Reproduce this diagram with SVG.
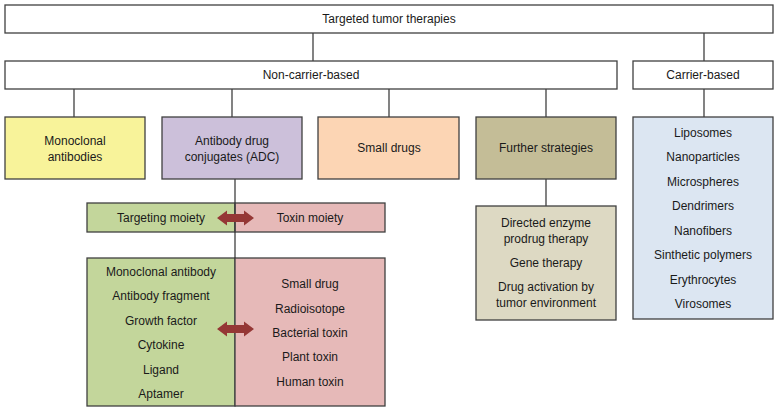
<svg xmlns="http://www.w3.org/2000/svg" width="777" height="416" viewBox="0 0 777 416">
<style>
.b{stroke:#404040;stroke-width:1.3}
text{font-family:"Liberation Sans",Arial,sans-serif;font-size:12px;fill:#1a1a1a;text-anchor:middle;dominant-baseline:central}
.c{stroke:#404040;stroke-width:1.3;fill:none}
.ar{fill:#953735}
</style>
<defs>
<path id="dbl" d="M-18.5,0 L-8.5,-7.5 L-8.5,-4 L8.5,-4 L8.5,-7.5 L18.5,0 L8.5,7.5 L8.5,4 L-8.5,4 L-8.5,7.5 Z"/>
</defs>
<g id="connectors">
<line class="c" x1="313" y1="33" x2="313" y2="61"/>
<line class="c" x1="704" y1="33" x2="704" y2="61"/>
<line class="c" x1="74" y1="89" x2="74" y2="117"/>
<line class="c" x1="232" y1="89" x2="232" y2="117"/>
<line class="c" x1="389" y1="89" x2="389" y2="117"/>
<line class="c" x1="546" y1="89" x2="546" y2="117"/>
<line class="c" x1="704" y1="89" x2="704" y2="117"/>
<line class="c" x1="546" y1="179" x2="546" y2="206"/>
</g>
<g id="root"><rect class="b" x="5" y="5" width="768" height="28" fill="#fff"/><text x="389" y="19">Targeted tumor therapies</text></g>
<g id="noncarrier"><rect class="b" x="5" y="61" width="612" height="28" fill="#fff"/><text x="311" y="75">Non-carrier-based</text></g>
<g id="carrier"><rect class="b" x="633" y="61" width="140" height="28" fill="#fff"/><text x="703" y="75">Carrier-based</text></g>
<g id="mab"><rect class="b" x="5" y="117" width="140" height="62" fill="#F8F39A"/><text x="75" y="141">Monoclonal</text><text x="75" y="157">antibodies</text></g>
<g id="adc"><rect class="b" x="162" y="117" width="140" height="62" fill="#CCC0DA"/><text x="232" y="141">Antibody drug</text><text x="232" y="157">conjugates (ADC)</text></g>
<g id="small"><rect class="b" x="318" y="117" width="141" height="62" fill="#FCD5B4"/><text x="389" y="148">Small drugs</text></g>
<g id="further"><rect class="b" x="476" y="117" width="140" height="62" fill="#C4BD97"/><text x="546" y="148">Further strategies</text></g>
<g id="carrierlist"><rect class="b" x="633" y="117" width="140" height="202" fill="#DCE6F2"/>
<text x="703" y="133">Liposomes</text><text x="703" y="157">Nanoparticles</text><text x="703" y="182">Microspheres</text><text x="703" y="206">Dendrimers</text><text x="703" y="231">Nanofibers</text><text x="703" y="255">Sinthetic polymers</text><text x="703" y="280">Erythrocytes</text><text x="703" y="304">Virosomes</text></g>
<g id="furtherlist"><rect class="b" x="476" y="206" width="140" height="114" fill="#DDD9C3"/>
<text x="546" y="223">Directed enzyme</text><text x="546" y="239">prodrug therapy</text><text x="546" y="263">Gene therapy</text><text x="546" y="287">Drug activation by</text><text x="546" y="303">tumor environment</text></g>
<g id="targeting"><rect class="b" x="87" y="203" width="148" height="29" fill="#C3D69B"/><text x="161" y="218">Targeting moiety</text></g>
<g id="toxin"><rect class="b" x="235" y="203" width="150" height="29" fill="#E6B9B8"/><text x="310" y="218">Toxin moiety</text></g>
<g id="targetlist"><rect class="b" x="87" y="258" width="148" height="148" fill="#C3D69B"/>
<text x="161" y="272">Monoclonal antibody</text><text x="161" y="296">Antibody fragment</text><text x="161" y="321">Growth factor</text><text x="161" y="345">Cytokine</text><text x="161" y="370">Ligand</text><text x="161" y="394">Aptamer</text></g>
<g id="toxinlist"><rect class="b" x="235" y="258" width="150" height="148" fill="#E6B9B8"/>
<text x="310" y="284">Small drug</text><text x="310" y="309">Radioisotope</text><text x="310" y="333">Bacterial toxin</text><text x="310" y="357">Plant toxin</text><text x="310" y="382">Human toxin</text></g>
<g id="adc-links">
<line class="c" x1="235" y1="179" x2="235" y2="258"/>
<use href="#dbl" class="ar" x="235.5" y="218"/>
<use href="#dbl" class="ar" x="235.5" y="329"/>
</g>
</svg>
